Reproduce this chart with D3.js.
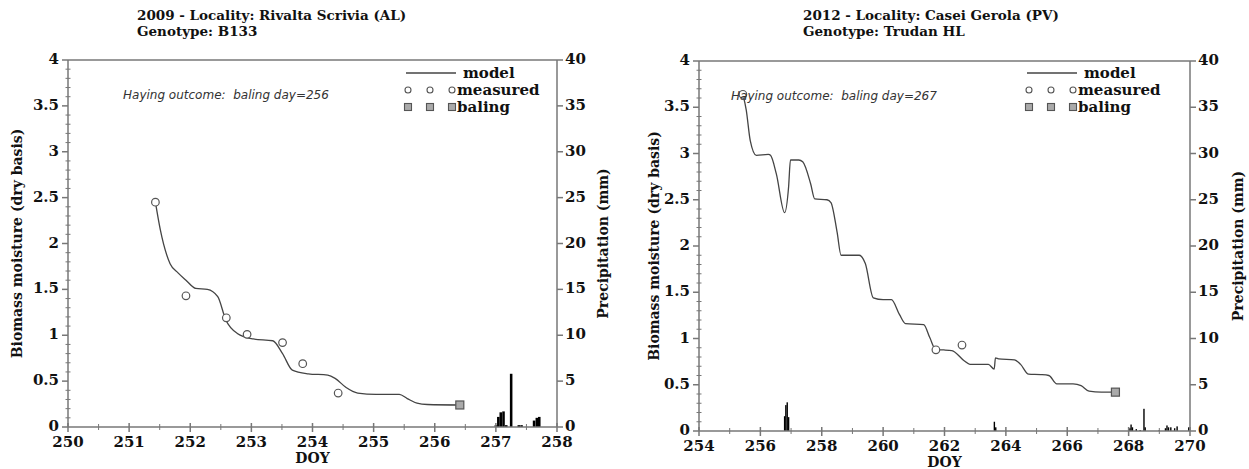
<!DOCTYPE html>
<html>
<head>
<meta charset="utf-8">
<script src="https://cdn.jsdelivr.net/npm/d3@7"></script>
<style>
  body { margin: 0; background: #fff; }
  svg text { font-family: "DejaVu Serif", serif; font-weight: bold; fill: #111; }
</style>
</head>
<body>
<svg id="chart" width="1249" height="469"></svg>
<script>
// ---- panel 1 : 2009 Rivalta Scrivia ----
var p1Title = ["2009 - Locality: Rivalta Scrivia (AL)", "Genotype: B133"];
var p1Note = "Haying outcome:  baling day=256";
var p1XTicks = [250, 251, 252, 253, 254, 255, 256, 257, 258];
var p1ModelDoy = [251.43, 251.51, 251.67, 251.8, 251.93, 252.09, 252.28, 252.45, 252.58, 252.77, 253.03, 253.35, 253.51, 253.67, 253.93, 254.25, 254.37, 254.55, 254.74, 255.04, 255.42, 255.55, 255.71, 255.88, 256.41];
var p1ModelMoist = [2.45, 2.15, 1.78, 1.68, 1.6, 1.51, 1.5, 1.42, 1.17, 1.02, 0.96, 0.94, 0.8, 0.62, 0.58, 0.565, 0.53, 0.43, 0.37, 0.355, 0.355, 0.31, 0.26, 0.245, 0.24];
var p1MeasDoy = [251.43, 251.93, 252.59, 252.93, 253.51, 253.84, 254.42];
var p1MeasMoist = [2.45, 1.43, 1.19, 1.01, 0.92, 0.69, 0.37];
var p1BalingDoy = [256.41];
var p1BalingMoist = [0.24];
var p1RainDoy = [257.0, 257.04, 257.08, 257.125, 257.17, 257.25, 257.375, 257.42, 257.625, 257.67, 257.71];
var p1RainMm = [0.2, 1.1, 1.6, 1.7, 0.2, 5.8, 0.2, 0.2, 0.7, 1.0, 1.1];

// ---- panel 2 : 2012 Casei Gerola ----
var p2Title = ["2012 - Locality: Casei Gerola (PV)", "Genotype: Trudan HL"];
var p2Note = "Haying outcome:  baling day=267";
var p2XTicks = [254, 256, 258, 260, 262, 264, 266, 268, 270];
var p2ModelDoy = [255.43, 255.54, 255.67, 255.87, 256.26, 256.33, 256.52, 256.79, 256.92, 256.98, 257.25, 257.38, 257.64, 257.77, 258.17, 258.3, 258.5, 258.63, 258.83, 259.22, 259.42, 259.68, 260.0, 260.27, 260.53, 260.73, 261.32, 261.52, 261.72, 261.98, 262.24, 262.64, 262.83, 263.43, 263.62, 263.66, 263.76, 264.28, 264.48, 264.74, 265.14, 265.4, 265.66, 266.19, 266.45, 266.71, 267.11, 267.57];
var p2ModelMoist = [3.64, 3.47, 3.14, 2.98, 2.99, 2.98, 2.78, 2.36, 2.64, 2.93, 2.93, 2.91, 2.67, 2.51, 2.5, 2.47, 2.15, 1.9, 1.9, 1.9, 1.81, 1.44, 1.42, 1.42, 1.26, 1.16, 1.15, 1.01, 0.878, 0.876, 0.87, 0.76, 0.72, 0.72, 0.67, 0.79, 0.78, 0.77, 0.72, 0.615, 0.61, 0.6, 0.51, 0.51, 0.49, 0.43, 0.42, 0.42];
var p2MeasDoy = [255.43, 261.72, 262.57];
var p2MeasMoist = [3.64, 0.878, 0.929];
var p2BalingDoy = [267.57];
var p2BalingMoist = [0.42];
var p2RainDoy = [256.79, 256.83, 256.875, 256.92, 263.625, 263.67, 268.04, 268.08, 268.125, 268.25, 268.375, 268.5, 268.54, 269.0, 269.2, 269.25, 269.3, 269.375, 269.5, 269.58, 269.96];
var p2RainMm = [1.6, 2.8, 3.1, 1.5, 1.0, 0.4, 0.3, 0.7, 0.4, 0.2, 0.1, 2.4, 0.4, 0.1, 0.3, 0.6, 0.4, 0.4, 0.3, 0.5, 0.4];

var moistTicks = [0, 0.5, 1, 1.5, 2, 2.5, 3, 3.5, 4];
var rainTicks = [0, 5, 10, 15, 20, 25, 30, 35, 40];

var svg = d3.select('#chart');
var axisColor = '#777';

function drawPanel(p) {
  var g = svg.append('g');
  var x = d3.scaleLinear().domain(p.xDomain).range([p.left, p.right]);
  var y = d3.scaleLinear().domain([0, 4]).range([p.bottom, p.top]);
  var y2 = d3.scaleLinear().domain([0, 40]).range([p.bottom, p.top]);

  // rain bars (hourly)
  var barW = Math.max(1.4, (x(1) - x(0)) / 24);
  g.selectAll('rect.rain').data(p.rainDoy).enter().append('rect')
    .attr('x', function(d) { return x(d) - barW / 2; })
    .attr('y', function(d, i) { return y2(p.rainMm[i]); })
    .attr('width', barW)
    .attr('height', function(d, i) { return p.bottom - y2(p.rainMm[i]); })
    .attr('fill', '#000');

  // frame
  g.append('line').attr('x1', p.left).attr('x2', p.right).attr('y1', p.top).attr('y2', p.top);
  g.append('line').attr('x1', p.left).attr('x2', p.right).attr('y1', p.bottom).attr('y2', p.bottom);
  g.append('line').attr('x1', p.left).attr('x2', p.left).attr('y1', p.top).attr('y2', p.bottom);
  g.append('line').attr('x1', p.right).attr('x2', p.right).attr('y1', p.top).attr('y2', p.bottom);
  g.selectAll('line').attr('stroke', axisColor).attr('stroke-width', 1.5);

  // left y ticks
  var minor = d3.range(0, 4.001, 0.1).filter(function(v) { return Math.abs(v * 2 - Math.round(v * 2)) > 0.01; });
  g.selectAll('line.ymin').data(minor).enter().append('line')
    .attr('x1', p.left - 2.5).attr('x2', p.left + 2.5)
    .attr('y1', function(d) { return y(d); }).attr('y2', function(d) { return y(d); })
    .attr('stroke', axisColor).attr('stroke-width', 1);
  g.selectAll('line.ymaj').data(moistTicks).enter().append('line')
    .attr('x1', p.left - 6).attr('x2', p.left)
    .attr('y1', function(d) { return y(d); }).attr('y2', function(d) { return y(d); })
    .attr('stroke', axisColor).attr('stroke-width', 1.5);
  g.selectAll('text.ylab').data(moistTicks).enter().append('text')
    .attr('x', p.left - 9).attr('y', function(d) { return y(d) + 4; })
    .attr('text-anchor', 'end').style('font-size', '15px')
    .text(function(d) { return d; });

  // right y ticks (precipitation)
  g.selectAll('line.y2maj').data(rainTicks).enter().append('line')
    .attr('x1', p.right).attr('x2', p.right + 6)
    .attr('y1', function(d) { return y2(d); }).attr('y2', function(d) { return y2(d); })
    .attr('stroke', axisColor).attr('stroke-width', 1.5);
  g.selectAll('text.y2lab').data(rainTicks).enter().append('text')
    .attr('x', p.right + 8).attr('y', function(d) { return y2(d) + 4; })
    .attr('text-anchor', 'start').style('font-size', '15px')
    .text(function(d) { return d; });

  // x ticks
  g.selectAll('line.xmin').data(p.xMinor).enter().append('line')
    .attr('x1', function(d) { return x(d); }).attr('x2', function(d) { return x(d); })
    .attr('y1', p.bottom - 3).attr('y2', p.bottom + 3)
    .attr('stroke', axisColor).attr('stroke-width', 1);
  g.selectAll('line.xmaj').data(p.xTicks).enter().append('line')
    .attr('x1', function(d) { return x(d); }).attr('x2', function(d) { return x(d); })
    .attr('y1', p.bottom - 4).attr('y2', p.bottom + 5)
    .attr('stroke', axisColor).attr('stroke-width', 1.5);
  g.selectAll('text.xlab').data(p.xTicks).enter().append('text')
    .attr('x', function(d) { return x(d); }).attr('y', p.bottom + 20)
    .attr('text-anchor', 'middle').style('font-size', '15px')
    .text(function(d) { return d; });

  // model line
  var pts = p.modelDoy.map(function(d, i) { return [d, p.modelMoist[i]]; });
  var line = d3.line().x(function(d) { return x(d[0]); }).y(function(d) { return y(d[1]); })
    .curve(d3.curveMonotoneX);
  g.append('path').datum(pts).attr('d', line)
    .attr('fill', 'none').attr('stroke', '#444').attr('stroke-width', 1.3);

  // measured circles
  g.selectAll('circle.meas').data(p.measDoy).enter().append('circle')
    .attr('cx', function(d) { return x(d); })
    .attr('cy', function(d, i) { return y(p.measMoist[i]); })
    .attr('r', 3.8).attr('fill', '#fff').attr('stroke', '#555').attr('stroke-width', 1.2);

  // baling square
  g.selectAll('rect.bal').data(p.balingDoy).enter().append('rect')
    .attr('x', function(d) { return x(d) - 4; })
    .attr('y', function(d, i) { return y(p.balingMoist[i]) - 4; })
    .attr('width', 8).attr('height', 8)
    .attr('fill', '#aaa').attr('stroke', '#555').attr('stroke-width', 1.2);

  // annotation
  g.append('text').attr('x', p.noteX).attr('y', y(3.58))
    .attr('xml:space', 'preserve').style('white-space', 'pre')
    .style('font-family', '"DejaVu Sans", sans-serif').style('font-weight', 'normal')
    .style('font-style', 'italic').style('font-size', '12px').style('fill', '#333')
    .text(p.note);

  // legend
  var lx = p.right - p.legendOff;
  g.append('line').attr('x1', lx - 51).attr('x2', lx - 1).attr('y1', 73).attr('y2', 73)
    .attr('stroke', '#444').attr('stroke-width', 1.3);
  g.append('text').attr('x', lx + 6).attr('y', 78).style('font-size', '15px').text('model');
  [lx - 49, lx - 27, lx - 5].forEach(function(cx) {
    g.append('circle').attr('cx', cx).attr('cy', 90).attr('r', 3)
      .attr('fill', '#fff').attr('stroke', '#555').attr('stroke-width', 1.1);
    g.append('rect').attr('x', cx - 3.5).attr('y', 103.5).attr('width', 7).attr('height', 7)
      .attr('fill', '#aaa').attr('stroke', '#555').attr('stroke-width', 1.1);
  });
  g.append('text').attr('x', lx).attr('y', 95).style('font-size', '15px').text('measured');
  g.append('text').attr('x', lx).attr('y', 112).style('font-size', '15px').text('baling');

  // titles
  g.append('text').attr('x', p.titleX).attr('y', 20).style('font-size', '13.5px').text(p.title[0]);
  g.append('text').attr('x', p.titleX).attr('y', 36).style('font-size', '13.5px').text(p.title[1]);

  // axis titles
  g.append('text').attr('transform', 'translate(' + p.yTitleX + ',' + ((p.top + p.bottom) / 2) + ') rotate(-90)')
    .attr('text-anchor', 'middle').style('font-size', '14px').text('Biomass moisture (dry basis)');
  g.append('text').attr('transform', 'translate(' + p.y2TitleX + ',' + ((p.top + p.bottom) / 2) + ') rotate(-90)')
    .attr('text-anchor', 'middle').style('font-size', '14px').text('Precipitation (mm)');
  g.append('text').attr('x', (p.left + p.right) / 2).attr('y', p.bottom + 36)
    .attr('text-anchor', 'middle').style('font-size', '14px').text('DOY');
}

drawPanel({
  title: p1Title, note: p1Note, xDomain: [250, 258], xTicks: p1XTicks,
  xMinor: d3.range(250.5, 258, 1),
  modelDoy: p1ModelDoy, modelMoist: p1ModelMoist,
  measDoy: p1MeasDoy, measMoist: p1MeasMoist,
  balingDoy: p1BalingDoy, balingMoist: p1BalingMoist,
  rainDoy: p1RainDoy, rainMm: p1RainMm,
  left: 68, right: 557, top: 60, bottom: 427,
  noteX: 123, legendOff: 100, titleX: 137, yTitleX: 22, y2TitleX: 608
});

drawPanel({
  title: p2Title, note: p2Note, xDomain: [254, 270], xTicks: p2XTicks,
  xMinor: d3.range(255, 270, 2),
  modelDoy: p2ModelDoy, modelMoist: p2ModelMoist,
  measDoy: p2MeasDoy, measMoist: p2MeasMoist,
  balingDoy: p2BalingDoy, balingMoist: p2BalingMoist,
  rainDoy: p2RainDoy, rainMm: p2RainMm,
  left: 699, right: 1190, top: 61, bottom: 431,
  noteX: 731, legendOff: 112, titleX: 803, yTitleX: 659, y2TitleX: 1243
});
</script>
</body>
</html>
